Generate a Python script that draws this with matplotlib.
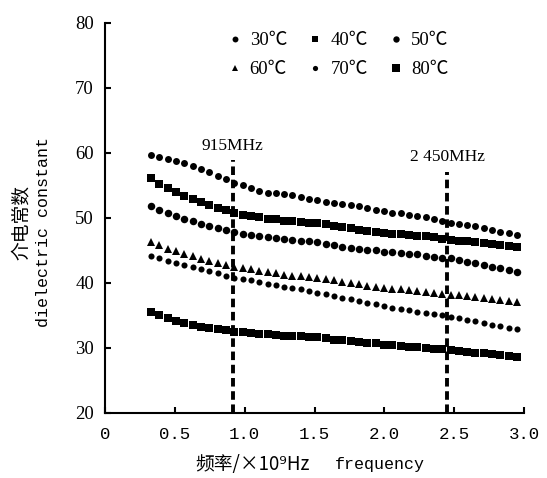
import numpy as np
import matplotlib.pyplot as plt

plt.rcParams["font.family"] = ["Liberation Serif", "Noto Sans CJK SC", "DejaVu Sans"]

# frequency sample grid (x 10^9 Hz)
freq = np.linspace(0.33, 2.95, 45)

eps_30 = [59.7, 59.4, 59.1, 58.7, 58.4, 58.0, 57.5, 57.0, 56.5, 56.0,
          55.4, 55.0, 54.6, 54.2, 53.9, 53.8, 53.7, 53.6, 53.3, 52.9,
          52.7, 52.5, 52.3, 52.2, 52.0, 51.8, 51.6, 51.3, 51.0, 50.8,
          50.7, 50.5, 50.3, 50.1, 49.9, 49.6, 49.3, 49.1, 48.9, 48.7,
          48.5, 48.2, 47.9, 47.7, 47.4]
eps_40 = [56.2, 55.3, 54.6, 54.0, 53.4, 52.9, 52.4, 52.0, 51.6, 51.2,
          50.8, 50.5, 50.3, 50.1, 49.9, 49.8, 49.6, 49.5, 49.4, 49.3,
          49.2, 49.0, 48.8, 48.6, 48.4, 48.2, 48.0, 47.9, 47.7, 47.6,
          47.5, 47.4, 47.3, 47.2, 47.0, 46.8, 46.6, 46.5, 46.4, 46.3,
          46.1, 46.0, 45.8, 45.7, 45.5]
eps_50 = [51.8, 51.2, 50.7, 50.3, 49.9, 49.5, 49.1, 48.8, 48.5, 48.1,
          47.8, 47.6, 47.4, 47.3, 47.1, 46.9, 46.8, 46.6, 46.5, 46.4,
          46.3, 46.0, 45.8, 45.6, 45.4, 45.3, 45.1, 45.0, 44.8, 44.7,
          44.6, 44.5, 44.4, 44.2, 44.0, 43.9, 43.8, 43.6, 43.3, 43.1,
          42.8, 42.5, 42.3, 42.0, 41.7]
eps_60 = [46.3, 45.8, 45.3, 44.9, 44.5, 44.1, 43.7, 43.4, 43.1, 42.8,
          42.5, 42.3, 42.1, 41.9, 41.7, 41.5, 41.3, 41.1, 41.0, 40.9,
          40.8, 40.6, 40.4, 40.2, 40.0, 39.8, 39.6, 39.4, 39.2, 39.1,
          39.0, 38.9, 38.7, 38.6, 38.5, 38.3, 38.2, 38.1, 38.0, 37.8,
          37.7, 37.5, 37.4, 37.2, 37.1]
eps_70 = [44.2, 43.8, 43.4, 43.1, 42.8, 42.4, 42.1, 41.8, 41.5, 41.1,
          40.8, 40.6, 40.4, 40.1, 39.9, 39.7, 39.4, 39.2, 39.0, 38.7,
          38.5, 38.3, 38.0, 37.7, 37.5, 37.2, 36.9, 36.7, 36.4, 36.2,
          36.0, 35.8, 35.6, 35.4, 35.2, 35.0, 34.8, 34.6, 34.3, 34.1,
          33.9, 33.6, 33.4, 33.1, 32.9]
eps_80 = [35.5, 35.0, 34.6, 34.2, 33.9, 33.6, 33.3, 33.1, 32.9, 32.7,
          32.5, 32.4, 32.3, 32.2, 32.1, 32.0, 31.9, 31.9, 31.8, 31.7,
          31.7, 31.5, 31.3, 31.2, 31.0, 30.9, 30.8, 30.7, 30.5, 30.4,
          30.3, 30.2, 30.1, 30.0, 29.9, 29.8, 29.7, 29.6, 29.4, 29.3,
          29.2, 29.0, 28.9, 28.7, 28.6]

labels = ["30℃", "40℃", "50℃", "60℃", "70℃", "80℃"]
series = [eps_30, eps_40, eps_50, eps_60, eps_70, eps_80]
markers = ["o", "s", "o", "^", "o", "s"]
sizes = [5.0, 5.8, 5.4, 5.8, 4.4, 6.0]

marked_freq = [0.915, 2.45]
marked_text = ["915MHz", "2 450MHz"]

fig = plt.figure(figsize=(5.47, 4.78), dpi=100)
ax = fig.add_axes([0.192, 0.136, 0.766, 0.816])

handles = []
for y, lab, m, s in zip(series, labels, markers, sizes):
    h, = ax.plot(freq, y, linestyle="none", marker=m, ms=s, color="black",
                 markeredgewidth=0, label=lab)
    handles.append(h)

# dashed marker lines at 915 MHz and 2450 MHz
tops = [58.9, 57.1]
for f, t, top in zip(marked_freq, marked_text, tops):
    ax.plot([f, f], [20, top], color="black", lw=2.8, dashes=(2.2, 1.2))
    ax.text(f, top + 1.0, t, ha="center", va="bottom", fontsize=12.5)

ax.set_xlim(0, 3.0)
ax.set_ylim(20, 80)
ax.set_xticks([0, 0.5, 1.0, 1.5, 2.0, 2.5, 3.0])
ax.set_xticklabels(["0", "0.5", "1.0", "1.5", "2.0", "2.5", "3.0"],
                   family="Liberation Mono", fontsize=12.5)
ax.set_yticks([20, 30, 40, 50, 60, 70, 80])
ax.tick_params(axis="y", labelsize=13.5)
ax.tick_params(axis="x", pad=10)
ax.tick_params(direction="in", length=4, width=1.5)
ax.tick_params(axis="y", pad=8)
for side in ["top", "right"]:
    ax.spines[side].set_visible(False)
for side in ["left", "bottom"]:
    ax.spines[side].set_linewidth(1.5)

# legend: rows 30/40/50 and 60/70/80
order = [0, 3, 1, 4, 2, 5]
leg = ax.legend([handles[i] for i in order], [labels[i] for i in order], ncol=3,
                loc="upper right", bbox_to_anchor=(0.86, 1.02), frameon=False,
                fontsize=13.5, handlelength=0.6, handletextpad=0.5,
                columnspacing=1.2, labelspacing=0.65, markerscale=0.85)

# axis labels
fig.text(0.040, 0.535, "介电常数", rotation=90, ha="center", va="center",
         fontsize=13.5, family=["Noto Sans CJK SC", "DejaVu Sans"])
fig.text(0.080, 0.515, "dielectric constant", rotation=90, ha="center",
         va="center", fontsize=12, family="Liberation Mono")
fig.text(0.462, 0.028, "频率/×10⁹Hz", ha="center", va="center", fontsize=13.5,
         family=["Noto Sans CJK SC", "DejaVu Sans"])
fig.text(0.695, 0.028, "frequency", ha="center", va="center", fontsize=12,
         family="Liberation Mono")

plt.savefig("out.png", dpi=100)
